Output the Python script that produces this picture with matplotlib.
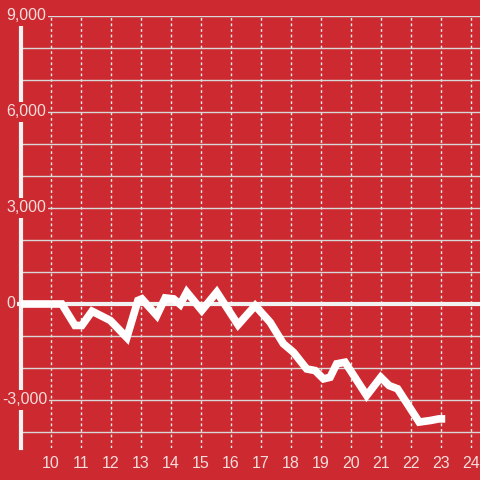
import matplotlib
matplotlib.use("Agg")
import matplotlib.pyplot as plt
import matplotlib.transforms as mtransforms

# Data
x_vals = [9.0, 10.36, 10.8, 11.03, 11.37, 11.98, 12.53, 12.9, 13.03, 13.53, 13.81, 14.09,
          14.31, 14.53, 15.03, 15.53, 16.24, 16.81, 17.31, 17.75, 18.09, 18.53, 18.81, 19.09,
          19.31, 19.53, 19.81, 20.53, 21.0, 21.28, 21.56, 22.28, 22.66, 22.94, 23.15]
y_vals = [0, 0, -670, -670, -225, -515, -1050, 110, 160, -360, 190, 160,
          -15, 370, -200, 370, -650, -50, -570, -1240, -1510, -2030, -2080, -2340,
          -2290, -1870, -1820, -2860, -2290, -2550, -2650, -3690, -3640, -3590, -3590]
x_ticks = list(range(10, 25))
y_grid = list(range(-4000, 9001, 1000))
y_label_vals = [9000, 6000, 3000, 0, -3000]
y_label_text = ["9,000", "6,000", "3,000", "0", "-3,000"]

bg = "#cc2a30"
txt = "#f3dcdc"
plt.rcParams['font.family'] = ['Liberation Sans', 'DejaVu Sans']

fig = plt.figure(figsize=(4.8, 4.8), dpi=100)
fig.patch.set_facecolor(bg)
ax = fig.add_axes([21/480, 1 - 448/480, 1 - 21/480, (448 - 16)/480])
ax.set_facecolor(bg)
ax.set_xlim(9.0, 24.31)
ax.set_ylim(-4500, 9000)

ax.set_yticks(y_grid)
ax.set_yticklabels([])
ax.set_xticks(x_ticks)
ax.set_xticklabels([str(v) for v in x_ticks])
ax.tick_params(axis='both', length=0)
ax.tick_params(axis='x', colors=txt, labelsize=11.5, pad=6)

ax.grid(axis='y', color='#d8d8d8', linewidth=1)
ax.grid(axis='x', color='#eeeeee', linewidth=1, linestyle=(0, (2, 2)))

for s in ['top', 'right', 'bottom']:
    ax.spines[s].set_visible(False)
ax.spines['left'].set_color('#f2f2f2')
ax.spines['left'].set_linewidth(3)
ax.spines['left'].set_zorder(3)

ax.axhline(0, xmin=-0.009, color='#f2f2f2', linewidth=3, zorder=2, clip_on=False)

ax.plot(x_vals, y_vals, color='white', linewidth=5.5, solid_joinstyle='miter',
        solid_capstyle='butt', zorder=4)

for v, t in zip(y_label_vals, y_label_text):
    off = -19 if t.startswith('-') else -15
    tr = mtransforms.offset_copy(ax.get_yaxis_transform(), fig=fig, x=off, y=0, units='dots')
    ax.text(0, v, t, transform=tr, ha='left', va='center', color=txt, fontsize=11.5,
            zorder=5, bbox=dict(facecolor=bg, edgecolor='none', pad=1.5))

fig.savefig("out.png", dpi=100, facecolor=bg)
